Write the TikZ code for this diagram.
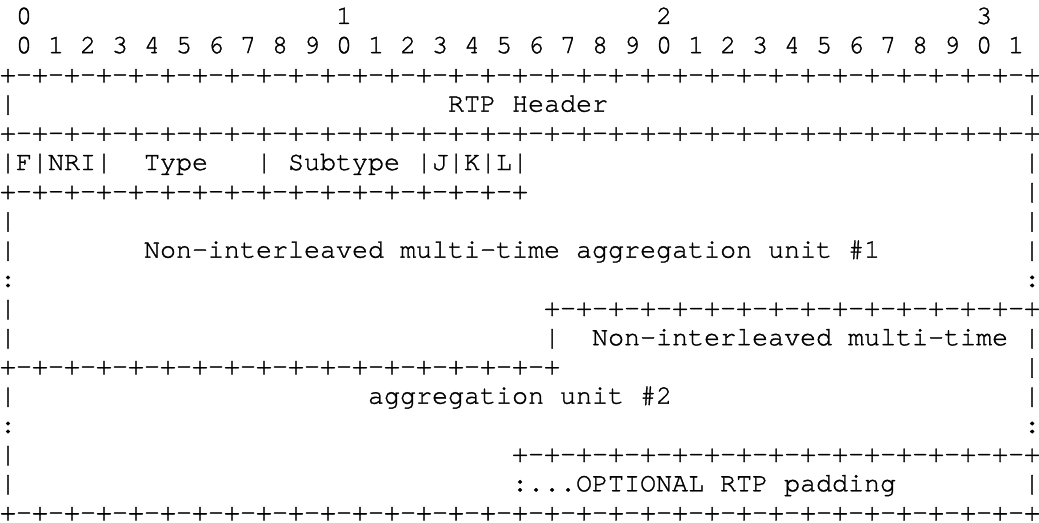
\documentclass[tikz,border=0pt]{standalone}
\usepackage{fontspec}
\setmonofont[FakeBold=1.2]{TeX Gyre Cursor}
\newcommand{\bitrule}[1]{\foreach\j in {1,...,#1}{+-}+}

\begin{document}
\begin{tikzpicture}[x=6pt, y=-10.95pt,
    font=\ttfamily\fontsize{10pt}{12pt}\selectfont,
    txt/.style={anchor=base west, inner sep=0pt, outer sep=0pt}]
  \useasboundingbox (0,-0.822) rectangle (64.93,17.055);
  % Bit numbers
  \foreach \t in {0,1,2,3}
    \node[txt] (tens\t) at (1+20*\t,0) {\t};
  \node[txt] (bits) at (1,1) {0 1 2 3 4 5 6 7 8 9 0 1 2 3 4 5 6 7 8 9 0 1 2 3 4 5 6 7 8 9 0 1};
  % RTP header
  \node[txt] (top) at (0,2) {\bitrule{32}};
  \node[txt] (rtp) at (28,3) {RTP Header};
  \node[txt] (hdrbot) at (0,4) {\bitrule{32}};
  % Payload header fields
  \node[txt] (fnri) at (1,5) {F|NRI|};
  \node[txt] (type) at (9,5) {Type};
  \node[txt] (typebar) at (16,5) {|};
  \node[txt] (subtype) at (18,5) {Subtype};
  \node[txt] (jkl) at (26,5) {|J|K|L|};
  \node[txt] (fieldbot) at (0,6) {\bitrule{16}};
  % Aggregation units
  \node[txt] (unitone) at (9,8) {Non-interleaved multi-time aggregation unit \#1};
  \node[txt] (unittwotop) at (34,10) {\bitrule{15}};
  \node[txt] (unittwobar) at (34,11) {|};
  \node[txt] (unittwoa) at (37,11) {Non-interleaved multi-time};
  \node[txt] (unitonebot) at (0,12) {\bitrule{17}};
  \node[txt] (unittwob) at (23,13) {aggregation unit \#2};
  % Padding
  \node[txt] (padtop) at (32,15) {\bitrule{16}};
  \node[txt] (padding) at (32,16) {:...OPTIONAL RTP padding};
  \node[txt] (bottom) at (0,17) {\bitrule{32}};
  % Side edges
  \foreach \r in {3,5,7,8,10,11,13,15,16}
    \node[txt] (lbar\r) at (0,\r) {|};
  \foreach \r in {3,5,6,7,8,11,12,13,16}
    \node[txt] (rbar\r) at (64,\r) {|};
  \foreach \r in {9,14} {
    \node[txt] (lcol\r) at (0,\r) {:};
    \node[txt] (rcol\r) at (64,\r) {:};
  }
\end{tikzpicture}
\end{document}
